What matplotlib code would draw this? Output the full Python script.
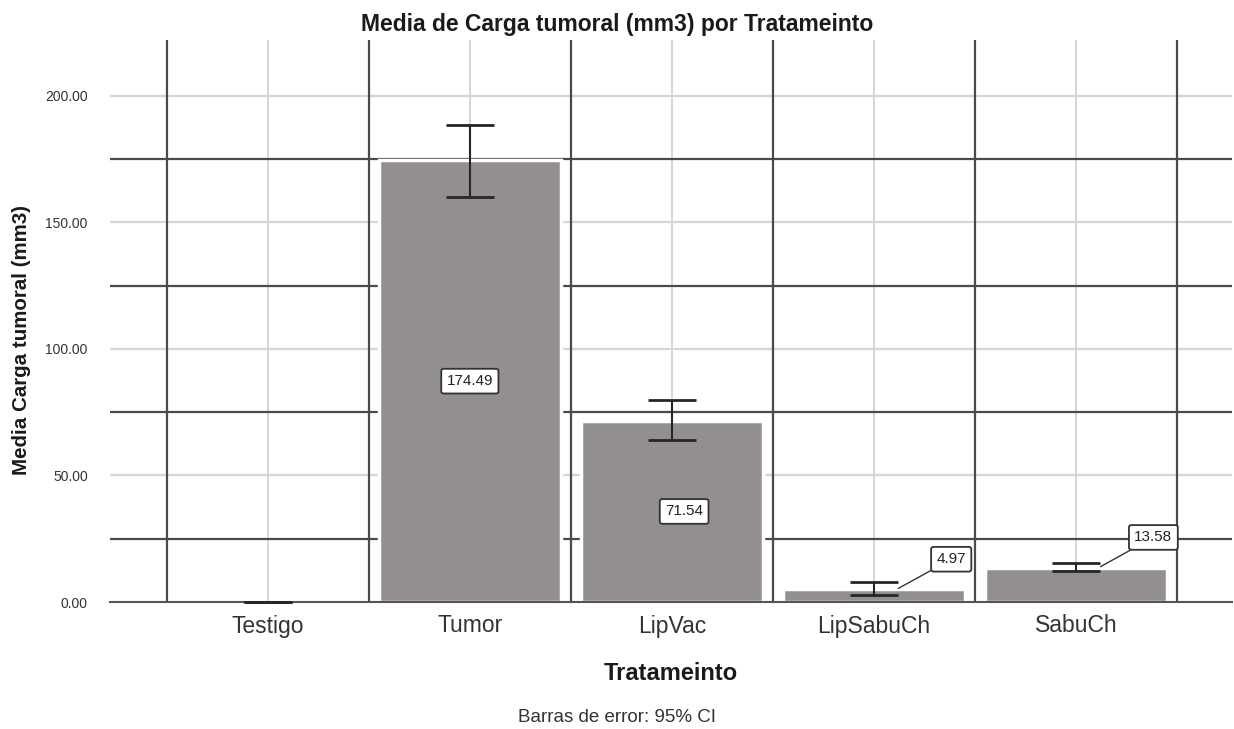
import numpy as np
import matplotlib
matplotlib.use("Agg")
import matplotlib.pyplot as plt

plt.rcParams['font.family'] = ['Liberation Sans', 'DejaVu Sans']

# data
tratamientos = ['Testigo', 'Tumor', 'LipVac', 'LipSabuCh', 'SabuCh']
medias = [0.0, 174.49, 71.54, 4.97, 13.58]
ci_bajo = [0.0, 160.1, 64.0, 2.8, 12.4]
ci_alto = [0.0, 188.6, 79.8, 7.9, 15.5]

bar_color = '#938f8e'
dark = '#4a4a4a'
light = '#d6d6d6'

fig = plt.figure(figsize=(12.34, 7.29), dpi=100)
ax = fig.add_axes([110/1234, 1-602/729, 1122/1234, 562/729])

x = np.arange(len(tratamientos))

# grid: light on major, dark on the in-between lines
for v in [50, 100, 150, 200]:
    ax.axhline(v, color=light, lw=1.6, zorder=0)
for v in [25, 75, 125, 175]:
    ax.axhline(v, color=dark, lw=1.6, zorder=0.5)
for xi in x:
    ax.axvline(xi, color=light, lw=1.4, zorder=0)
for xb in np.arange(-0.5, len(tratamientos), 1.0):
    ax.axvline(xb, color=dark, lw=1.6, zorder=0.5)

ax.bar(x, medias, width=0.9, color=bar_color, edgecolor='white', linewidth=2.5, zorder=2)

err = [np.array(medias) - np.array(ci_bajo), np.array(ci_alto) - np.array(medias)]
eb = ax.errorbar(x, medias, yerr=err, fmt='none', ecolor='#262626', elinewidth=1.5,
                 capsize=17.5, capthick=2.0, zorder=3)
for part in eb.lines[1]:
    part.set_clip_on(False)

box = dict(boxstyle='round,pad=0.35,rounding_size=0.15', fc='white', ec='#333333', lw=1.3)
for i, v in enumerate(medias):
    if v <= 0:
        continue
    if v > 40:
        ax.text(i + (0.06 if i == 2 else 0), v / 2, '%.2f' % v, ha='center', va='center',
                fontsize=11, color='#222222', bbox=box, zorder=4)
    else:
        ax.annotate('%.2f' % v, xy=(i + 0.12, v + 0.4), xytext=(38, 21),
                    textcoords='offset points', ha='center', va='center',
                    fontsize=11, color='#222222', bbox=box, zorder=4,
                    arrowprops=dict(arrowstyle='-', color='#333333', lw=1.0,
                                    shrinkA=0, shrinkB=0))

ax.set_xlim(-0.78, 4.77)
ax.set_ylim(0, 222)
ax.set_yticks([0, 50, 100, 150, 200])
ax.set_yticklabels(['%.2f' % t for t in [0, 50, 100, 150, 200]])
ax.set_xticks(x)
ax.set_xticklabels(tratamientos)
ax.tick_params(axis='y', length=0, pad=16, labelsize=10, labelcolor='#333333')
ax.tick_params(axis='x', length=0, pad=9, labelsize=16.5, labelcolor='#333333')

for s in ['top', 'right', 'left']:
    ax.spines[s].set_visible(False)
ax.spines['bottom'].set_color('#555555')
ax.spines['bottom'].set_linewidth(1.5)
ax.spines['bottom'].set_zorder(2.5)

fig.text(617/1234, 1-24/729, 'Media de Carga tumoral (mm3) por Tratameinto',
         ha='center', va='center', fontsize=16.5, fontweight='bold', color='#1a1a1a')
fig.text(22/1234, 1-340/729, 'Media Carga tumoral (mm3)', rotation=90,
         ha='center', va='center', fontsize=14.8, fontweight='bold', color='#1a1a1a')
fig.text(671/1234, 1-674/729, 'Tratameinto', ha='center', va='center',
         fontsize=17, fontweight='bold', color='#1a1a1a')
fig.text(617/1234, 1-718/729, 'Barras de error: 95% CI', ha='center', va='center',
         fontsize=13.5, color='#333333')

fig.savefig('out.png', dpi=100, facecolor='white')
